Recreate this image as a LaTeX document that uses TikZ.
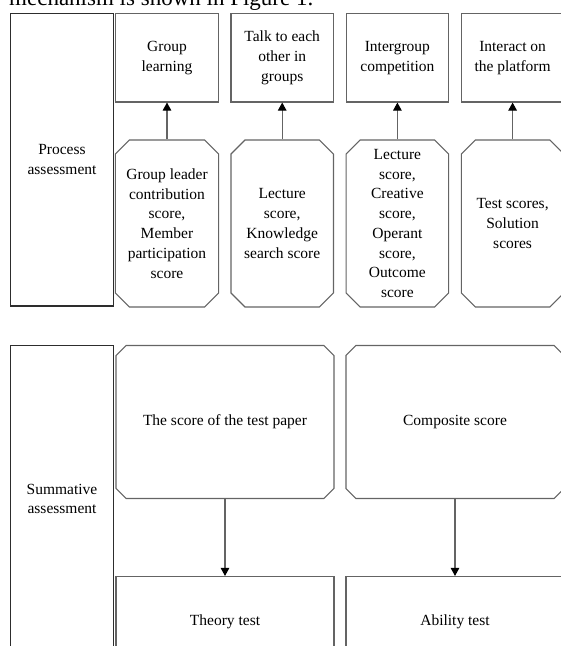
\documentclass[tikz,border=0pt]{standalone}
\usepackage{fontspec}
\setmainfont{Liberation Serif}
\usetikzlibrary{shapes.misc,arrows.meta}
\definecolor{edge}{RGB}{100,100,100}
\definecolor{dark}{RGB}{45,45,45}
\begin{document}
\begin{tikzpicture}[x=1pt,y=-1pt,
  txt/.style={font=\fontsize{15.5}{19.7}\selectfont, align=center},
  box/.style={txt, draw=edge, line width=1.1pt, rectangle, inner sep=0pt},
  lbox/.style={box, draw=dark},
  oct/.style={box, chamfered rectangle, chamfered rectangle xsep=11pt},
  bigoct/.style={box, chamfered rectangle, chamfered rectangle xsep=21pt},
  arr/.style={draw=edge, line width=1.1pt, -{Triangle[length=8pt,width=8.5pt,color=black]}}]
\useasboundingbox (0,0) rectangle (561,646);
\clip (0,0) rectangle (561,646);
% cut-off text line above the figure
\node[anchor=base west, inner sep=0pt, font=\fontsize{23}{27}\selectfont] (head) at (9,5) {mechanism is shown in Figure 1.};
% process assessment
\node[lbox, minimum width=103pt, minimum height=292.5pt] (pa) at (62,159.75) {Process\\assessment};
\node[box, minimum width=102.5pt, minimum height=88.5pt] (t1) at (167,57.75) {Group\\learning};
\node[box, minimum width=102.5pt, minimum height=88.5pt] (t2) at (282.2,57.75) {Talk to each\\other in\\groups};
\node[box, minimum width=102.5pt, minimum height=88.5pt] (t3) at (397.4,57.75) {Intergroup\\competition};
\node[box, minimum width=102.5pt, minimum height=88.5pt] (t4) at (512.6,57.75) {Interact on\\the platform};
\node[oct, minimum width=102.5pt, minimum height=167pt] (b1) at (167,223.5) {Group leader\\contribution\\score,\\Member\\participation\\score};
\node[oct, minimum width=102.5pt, minimum height=167pt] (b2) at (282.2,223.5) {Lecture\\score,\\Knowledge\\search score};
\node[oct, minimum width=102.5pt, minimum height=167pt] (b3) at (397.4,223.5) {Lecture\\score,\\Creative\\score,\\Operant\\score,\\Outcome\\score};
\node[oct, minimum width=102.5pt, minimum height=167pt] (b4) at (512.6,223.5) {Test scores,\\Solution\\scores};
\foreach \i in {1,2,3,4} \draw[arr] (b\i.north) -- (t\i.south);
% summative assessment
\node[lbox, minimum width=103pt, minimum height=307pt] (sa) at (62,499) {Summative\\assessment};
\node[bigoct, minimum width=218pt, minimum height=153pt] (o1) at (225,422) {The score of the test paper};
\node[bigoct, minimum width=218pt, minimum height=153pt] (o2) at (455,422) {Composite score};
\node[box, minimum width=218pt, minimum height=91pt] (r1) at (225,622) {Theory test};
\node[box, minimum width=218pt, minimum height=91pt] (r2) at (455,622) {Ability test};
\draw[arr] (o1.south) -- (r1.north);
\draw[arr] (o2.south) -- (r2.north);
\end{tikzpicture}
\end{document}
